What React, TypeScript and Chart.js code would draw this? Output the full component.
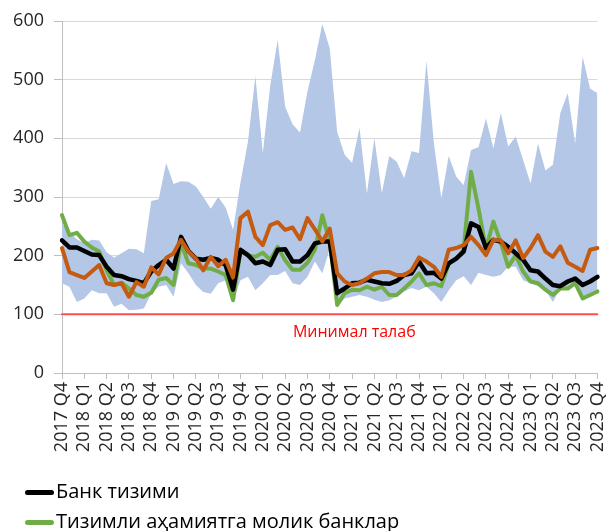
import React, { useEffect, useRef } from 'react';
import { Chart, registerables } from 'chart.js';

Chart.register(...registerables);

const quarterLabels = [
  '2017 Q4', '2018 Q1', '2018 Q2', '2018 Q3', '2018 Q4',
  '2019 Q1', '2019 Q2', '2019 Q3', '2019 Q4',
  '2020 Q1', '2020 Q2', '2020 Q3', '2020 Q4',
  '2021 Q1', '2021 Q2', '2021 Q3', '2021 Q4',
  '2022 Q1', '2022 Q2', '2022 Q3', '2022 Q4',
  '2023 Q1', '2023 Q2', '2023 Q3', '2023 Q4',
];

// monthly categories: Dec 2017 .. Dec 2023
const months: string[] = [];
for (let i = 0; i < 73; i++) {
  const y = 2017 + Math.floor((11 + i) / 12);
  const m = ((11 + i) % 12) + 1;
  months.push(`${y}-${String(m).padStart(2, '0')}`);
}

const bankSystem = [
  226, 214, 214, 208, 202, 201, 181, 167, 165, 160, 157, 153, 173, 184, 193, 178, 232, 208, 195, 193,
  196, 193, 184, 142, 210, 201, 187, 190, 184, 210, 211, 190, 190, 201, 221, 224, 224, 136, 144, 153,
  154, 159, 156, 153, 152, 157, 167, 170, 190, 170, 171, 161, 187, 195, 207, 255, 249, 213, 227, 224,
  215, 204, 193, 175, 173, 161, 150, 148, 156, 161, 150, 156, 164,
];

const systemicBanks = [
  269, 235, 239, 224, 214, 207, 175, 150, 154, 144, 133, 130, 137, 159, 162, 150, 222, 187, 184, 178,
  178, 173, 167, 124, 208, 200, 198, 205, 193, 215, 192, 176, 176, 188, 210, 269, 224, 116, 136, 142,
  141, 147, 142, 147, 133, 133, 144, 156, 170, 150, 153, 148, 187, 195, 210, 343, 280, 212, 258, 222,
  181, 201, 173, 156, 153, 142, 133, 144, 144, 153, 127, 133, 139,
];

const otherBanks = [
  213, 172, 167, 162, 173, 184, 153, 150, 153, 130, 155, 147, 180, 168, 196, 204, 227, 207, 195, 175,
  198, 182, 193, 163, 264, 275, 232, 218, 252, 257, 244, 248, 228, 264, 245, 224, 246, 170, 156, 150,
  153, 161, 170, 172, 172, 167, 167, 175, 197, 190, 181, 164, 210, 213, 218, 232, 218, 201, 227, 226,
  204, 226, 196, 213, 235, 207, 198, 216, 188, 181, 174, 210, 213,
];

const rangeMin = [
  153, 147, 121, 127, 141, 136, 136, 113, 118, 107, 108, 110, 135, 147, 150, 130, 187, 170, 150, 138,
  135, 153, 158, 122, 158, 164, 141, 153, 167, 167, 174, 153, 150, 164, 190, 170, 212, 115, 127, 130,
  133, 130, 125, 121, 124, 130, 139, 145, 141, 147, 136, 121, 141, 158, 165, 150, 171, 167, 164, 167,
  181, 181, 158, 153, 148, 141, 121, 144, 144, 150, 124, 131, 137,
];

const rangeMax = [
  255, 240, 228, 221, 227, 226, 206, 197, 204, 212, 211, 204, 293, 296, 358, 322, 327, 326, 318, 300,
  280, 300, 282, 244, 325, 394, 506, 375, 490, 568, 454, 424, 410, 480, 533, 595, 553, 411, 372, 358,
  418, 306, 400, 307, 370, 360, 332, 378, 375, 532, 392, 298, 370, 335, 320, 380, 385, 434, 383, 443,
  386, 403, 363, 323, 391, 345, 355, 443, 477, 391, 539, 485, 477,
];

const minimalRequirement = 100;
const minimalLabel = 'Минимал талаб';
const minimalLabelAt = { index: 39.3, value: 61 };

const legendItems = [
  { label: 'Банк тизими', color: '#000000' },
  { label: 'Тизимли аҳамиятга молик банклар', color: '#70AD47' },
];

const FONT = '"Open Sans", sans-serif';

export default function App() {
  const ref = useRef<HTMLCanvasElement>(null);

  useEffect(() => {
    if (!ref.current) return;
    const labelPlugin = {
      id: 'minimalLabel',
      afterDatasetsDraw(chart: any) {
        const { ctx, scales } = chart;
        ctx.save();
        ctx.font = `16px ${FONT}`;
        ctx.fillStyle = '#FF0000';
        ctx.textAlign = 'center';
        ctx.textBaseline = 'alphabetic';
        ctx.fillText(
          minimalLabel,
          scales.x.getPixelForValue(minimalLabelAt.index),
          scales.y.getPixelForValue(minimalLabelAt.value)
        );
        ctx.restore();
      },
    };

    const lineBase = {
      pointRadius: 0,
      pointHoverRadius: 0,
      tension: 0,
      fill: false,
      borderJoinStyle: 'round' as const,
      borderCapStyle: 'round' as const,
    };

    const chart = new Chart(ref.current, {
      type: 'line',
      data: {
        labels: months,
        datasets: [
          {
            ...lineBase,
            label: minimalLabel,
            data: months.map(() => minimalRequirement),
            borderColor: '#FF5050',
            borderWidth: 2,
          },
          { ...lineBase, label: 'Бошқа банклар', data: otherBanks, borderColor: '#C55A11', borderWidth: 4 },
          { ...lineBase, label: legendItems[0].label, data: bankSystem, borderColor: '#000000', borderWidth: 4.5 },
          { ...lineBase, label: legendItems[1].label, data: systemicBanks, borderColor: '#70AD47', borderWidth: 4 },
          {
            ...lineBase,
            label: 'max',
            data: rangeMax,
            borderColor: 'transparent',
            borderWidth: 0,
            backgroundColor: '#B4C7E7',
            fill: '+1',
          },
          {
            ...lineBase,
            label: 'min',
            data: rangeMin,
            borderColor: 'transparent',
            borderWidth: 0,
          },
        ],
      },
      options: {
        animation: false,
        responsive: false,
        devicePixelRatio: 1,
        layout: { padding: { top: 21, right: 8.5, left: 0, bottom: 0 } },
        font: { family: FONT } as any,
        plugins: {
          legend: { display: false },
          tooltip: { enabled: false },
        },
        scales: {
          x: {
            type: 'category',
            offset: false,
            grid: {
              display: true,
              drawOnChartArea: false,
              drawTicks: true,
              tickLength: 6,
              color: '#BFBFBF',
            },
            border: { display: true, color: '#BFBFBF', width: 1 },
            ticks: {
              autoSkip: false,
              maxRotation: 90,
              minRotation: 90,
              padding: 3,
              color: '#262626',
              font: { family: FONT, size: 18 },
              callback: (_v: any, i: number) => (i % 3 === 0 ? quarterLabels[i / 3] : null),
            },
            afterFit: (s: any) => {
              s.height = 531 - 373;
              s.paddingLeft = 0;
              s.paddingRight = 0;
            },
          },
          y: {
            min: 0,
            max: 600,
            ticks: {
              stepSize: 100,
              padding: 10,
              color: '#262626',
              font: { family: FONT, size: 18 },
            },
            grid: {
              color: '#D9D9D9',
              tickColor: '#BFBFBF',
              tickLength: 8,
              drawTicks: true,
            },
            border: { display: true, color: '#BFBFBF', width: 1 },
            afterFit: (s: any) => {
              s.width = 62;
              s.paddingTop = 0;
              s.paddingBottom = 0;
            },
          },
        },
      } as any,
      plugins: [labelPlugin],
    });
    return () => chart.destroy();
  }, []);

  return (
    <div style={{ position: 'absolute', left: 0, top: 0, width: 606, height: 531, overflow: 'hidden', background: '#fff' }}>
      <canvas ref={ref} width={606} height={531} style={{ position: 'absolute', left: 0, top: 0 }} />
      {legendItems.map((item, k) => (
        <div
          key={item.label}
          style={{
            position: 'absolute',
            left: 25,
            top: 477 + k * 29.5,
            height: 28,
            display: 'flex',
            alignItems: 'center',
            fontFamily: FONT,
            fontSize: 20,
            lineHeight: '28px',
            color: '#000',
            whiteSpace: 'nowrap',
          }}
        >
          <span
            style={{
              display: 'inline-block',
              width: 29,
              height: 5,
              borderRadius: 2.5,
              background: item.color,
              marginRight: 2,
              marginTop: 3,
            }}
          />
          <span>{item.label}</span>
        </div>
      ))}
    </div>
  );
}
